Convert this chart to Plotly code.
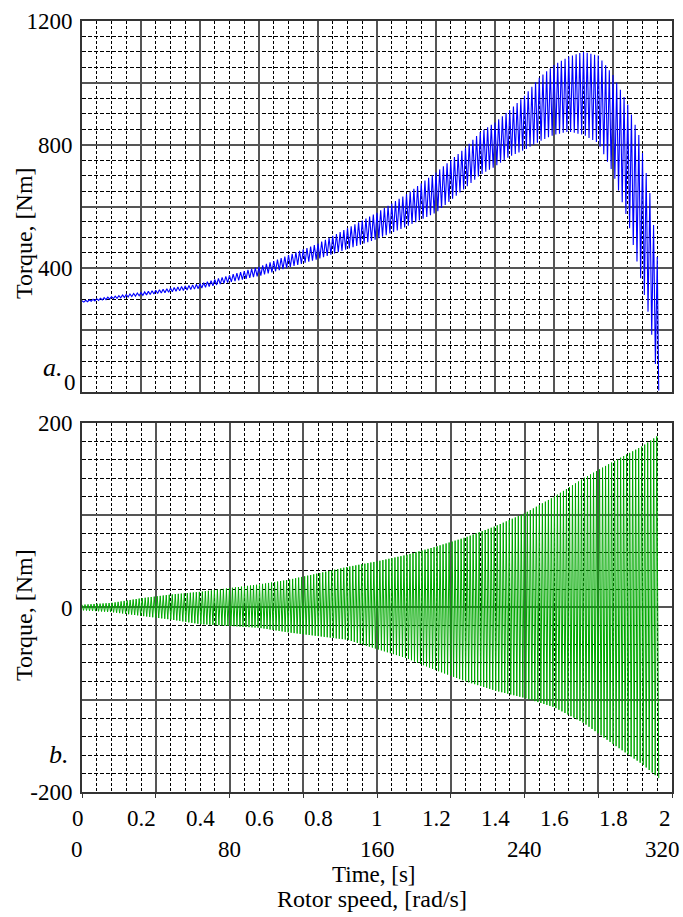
import numpy as np
import plotly.graph_objects as go

# ---- data ----
# (a) electromagnetic torque envelope, Nm, vs time, s
top_env_t = [0.0, 0.2, 0.4, 0.6, 0.8, 1.0, 1.1, 1.2, 1.3, 1.35, 1.4, 1.45, 1.5, 1.55,
             1.6, 1.65, 1.7, 1.75, 1.8, 1.85, 1.89, 1.925, 1.955]
top_upper = [295, 322, 350, 405, 480, 580, 640, 710, 790, 841, 872, 912, 958, 1016,
             1058, 1085, 1100, 1088, 1025, 930, 825, 644, 395]
top_lower = [290, 312, 335, 375, 430, 495, 535, 580, 660, 702, 729, 762, 783, 810,
             832, 842, 832, 805, 709, 557, 384, 233, 5]
top_period = 0.0125  # s, period of torque pulsation

# (b) pulsating torque envelope, Nm, vs time, s
bot_env_t = [0.0, 0.1, 0.2, 0.3, 0.4, 0.5, 0.6, 0.7, 0.8, 0.9, 1.0, 1.1, 1.2, 1.3,
             1.4, 1.5, 1.6, 1.7, 1.8, 1.9, 1.955]
bot_upper = [3, 5, 10, 14, 17, 21, 25, 30, 37, 44, 50, 57, 66, 76,
             88, 102, 120, 140, 158, 175, 187]
bot_lower = [-3, -5, -9, -13, -18, -20, -22, -27, -31, -35, -45, -55, -68, -80,
             -90, -98, -108, -125, -148, -170, -185]
bot_period = 0.0102

time_ticks = [0, 0.2, 0.4, 0.6, 0.8, 1, 1.2, 1.4, 1.6, 1.8, 2]
speed_ticks = [0, 80, 160, 240, 320]
speed_max = 320
time_max = 2.0
top_yticks = [0, 200, 400, 600, 800, 1000, 1200]
top_ylabels = ["", "", "400", "", "800", "", "1200"]
bot_yticks = [-200, -100, 0, 100, 200]
bot_ylabels = ["-200", "", "0", "", "200"]

FONT = "Liberation Serif, Times New Roman, serif"


def zigzag(env_t, up, lo, period):
    tk = np.arange(0, env_t[-1] + 1e-9, period / 2)
    u = np.interp(tk, env_t, up)
    l = np.interp(tk, env_t, lo)
    y = np.where(np.arange(len(tk)) % 2 == 0, u, l)
    # finish on the last read envelope point
    tk = np.append(tk, env_t[-1])
    y = np.append(y, lo[-1])
    return tk, y


tx, ty = zigzag(top_env_t, top_upper, top_lower, top_period)
bx, by = zigzag(bot_env_t, bot_upper, bot_lower, bot_period)

fig = go.Figure()
fig.add_trace(go.Scatter(x=tx, y=ty, mode="lines", line=dict(color="#0000ff", width=1.1),
                         xaxis="x", yaxis="y", showlegend=False, hoverinfo="skip"))
fig.add_trace(go.Scatter(x=bx, y=by, mode="lines", line=dict(color="#00aa00", width=1),
                         xaxis="x2", yaxis="y2", showlegend=False, hoverinfo="skip"))

MAJ = "#555555"
common = dict(showline=True, mirror=True, linecolor="#333333", linewidth=2,
              showgrid=True, gridcolor=MAJ, gridwidth=1.5, zeroline=False,
              automargin=False,
              tickfont=dict(family=FONT, size=23, color="black"))

fig.update_layout(
    template="none",
    width=683, height=917,
    margin=dict(l=82, r=11, t=21, b=125, autoexpand=False),
    paper_bgcolor="white", plot_bgcolor="white",
    font=dict(family=FONT, color="black"),
    xaxis=dict(domain=[0, 1], range=[0, time_max], tickvals=[i * 0.2 for i in range(11)],
               showticklabels=False, anchor="y", ticks="",
               minor=dict(dtick=0.05, tick0=0, showgrid=True, gridcolor="black",
                          griddash="3px,2px", gridwidth=1), **common),
    yaxis=dict(domain=[0.5188, 1], range=[0, 1200], tickvals=top_yticks,
               ticktext=top_ylabels, anchor="x", ticklabelstandoff=3, ticks="",
               minor=dict(dtick=50, tick0=0, showgrid=True, gridcolor="black",
                          griddash="4px,2px", gridwidth=1), **common),
    xaxis2=dict(domain=[0, 1], range=[0, time_max], tickvals=[i * 0.25 for i in range(9)],
                showticklabels=False, anchor="y2", ticks="outside", ticklen=4,
                tickcolor="#333333",
                minor=dict(dtick=0.05, tick0=0, showgrid=True, gridcolor="black",
                           griddash="3px,2px", gridwidth=1), **common),
    yaxis2=dict(domain=[0, 0.4786], range=[-200, 200], tickvals=bot_yticks,
                ticktext=bot_ylabels, anchor="x2", ticklabelstandoff=3, ticks="",
                minor=dict(dtick=20, tick0=0, showgrid=True, gridcolor="black",
                           griddash="4px,2px", gridwidth=1), **common),
)

ann = []
# top "0" label, slightly raised as in the original
ann.append(dict(text="0", x=0, xref="paper", y=0, yref="y", xanchor="right",
                yanchor="middle", xshift=-4, yshift=10, showarrow=False,
                font=dict(family=FONT, size=23)))
for v in time_ticks:
    ann.append(dict(text=str(v), x=v, xref="x2", y=0, yref="paper", xanchor="center",
                    yanchor="middle", yshift=-26,
                    xshift=-4 if v == 0 else (-7 if v == 2 else 0),
                    showarrow=False, font=dict(family=FONT, size=23)))
for s in speed_ticks:
    ann.append(dict(text=str(s), x=s * time_max / speed_max, xref="x2", y=0, yref="paper",
                    xanchor="center", yanchor="middle", yshift=-57,
                    xshift=-5 if s == 0 else (-10 if s == speed_max else 0),
                    showarrow=False, font=dict(family=FONT, size=23)))
ann.append(dict(text="Time, [s]", x=0.5, xref="paper", y=0, yref="paper", xanchor="center",
                yanchor="middle", xshift=-3, yshift=-82, showarrow=False,
                font=dict(family=FONT, size=23)))
ann.append(dict(text="Rotor speed, [rad/s]", x=0.5, xref="paper", y=0, yref="paper",
                xanchor="center", yanchor="middle", xshift=-5, yshift=-107, showarrow=False,
                font=dict(family=FONT, size=24)))
ann.append(dict(text="Torque, [Nm]", x=0, xref="paper", y=0.725, yref="paper",
                xanchor="center", yanchor="middle", xshift=-58, textangle=-90,
                showarrow=False, font=dict(family=FONT, size=24)))
ann.append(dict(text="Torque, [Nm]", x=0, xref="paper", y=0.2296, yref="paper",
                xanchor="center", yanchor="middle", xshift=-58, textangle=-90,
                showarrow=False, font=dict(family=FONT, size=24)))
ann.append(dict(text="<i>a.</i>", x=0, xref="paper", y=0, yref="y", xanchor="center",
                yanchor="middle", xshift=-29, yshift=25, showarrow=False,
                font=dict(family=FONT, size=26)))
ann.append(dict(text="<i>b.</i>", x=0, xref="paper", y=-200, yref="y2", xanchor="center",
                yanchor="middle", xshift=-23, yshift=37, showarrow=False,
                font=dict(family=FONT, size=26)))
fig.update_layout(annotations=ann)

fig.write_html("out.html",
               config={"displayModeBar": False},
               post_script="document.body.style.margin='0';"
                           "document.body.style.overflow='hidden';")
